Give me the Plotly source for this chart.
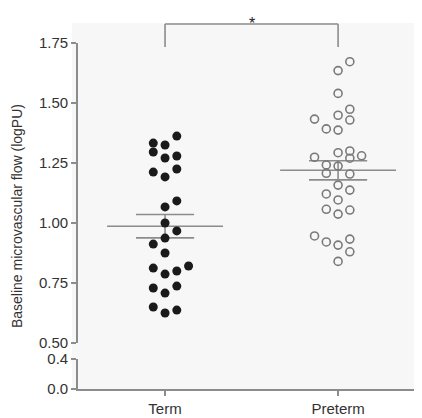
import numpy as np
import plotly.graph_objects as go

# ---- data ----
groups = ["Term", "Preterm"]
term_values = [1.362, 1.333, 1.325, 1.296, 1.271, 1.279, 1.212, 1.192, 1.225,
               1.092, 1.067, 1.000, 0.967, 0.937, 0.912, 0.875, 0.812, 0.787,
               0.800, 0.821, 0.729, 0.708, 0.737, 0.650, 0.625, 0.637]
term_jitter = [1, -1, 0, -1, 0, 1, -1, 0, 1, 1, 0, 0, 1, 0, -1, 0, -1, 0, 1, 2,
               -1, 0, 1, -1, 0, 1]
preterm_values = [1.672, 1.635, 1.540, 1.474, 1.433, 1.449, 1.429, 1.392, 1.387,
                  1.274, 1.293, 1.300, 1.270, 1.280, 1.242, 1.237, 1.207, 1.204,
                  1.158, 1.137, 1.121, 1.096, 1.057, 1.037, 1.054, 0.946, 0.921,
                  0.908, 0.933, 0.880, 0.840]
preterm_jitter = [1, 0, 0, 1, -2, 0, 1, -1, 0, -2, 0, 1, 1, 2, -1, 0, -1, 1, 0,
                  1, -1, 0, -1, 0, 1, -2, -1, 0, 1, 1, 0]
upper_ticks = [0.50, 0.75, 1.00, 1.25, 1.50, 1.75]
lower_ticks = [0.0, 0.4]
y_title = "Baseline microvascular flow (logPU)"
sig_label = "*"

JIT = 0.068      # jitter step (x units)
MEAN_HW = 0.335  # mean line half width
SEM_HW = 0.168   # sem cap half width
AXC = "#8c8c8c"
TXT = "#333333"

fig = go.Figure()

# background panel
fig.add_shape(type="rect", xref="paper", yref="paper", x0=-0.0174, x1=1.0,
              y0=0.0, y1=1.058, fillcolor="#f7f7f7", line_width=0, layer="below")

series = [
    (0, term_values, term_jitter, dict(symbol="circle", size=9, color="#1a1a1a")),
    (1, preterm_values, preterm_jitter,
     dict(symbol="circle-open", size=8, color="#7a7a7a", line=dict(width=1.6, color="#7a7a7a"))),
]

for gx, vals, jit, mk in series:
    vals = np.array(vals)
    m = vals.mean()
    sem = vals.std(ddof=1) / np.sqrt(len(vals))
    fig.add_trace(go.Scatter(x=[gx - MEAN_HW, gx + MEAN_HW], y=[m, m], mode="lines",
                             line=dict(color=AXC, width=1.6), hoverinfo="skip",
                             showlegend=False, xaxis="x", yaxis="y"))
    fig.add_trace(go.Scatter(x=[gx - SEM_HW, gx + SEM_HW, None, gx - SEM_HW, gx + SEM_HW, None, gx, gx],
                             y=[m + sem, m + sem, None, m - sem, m - sem, None, m - sem, m + sem],
                             mode="lines", line=dict(color=AXC, width=1.6),
                             hoverinfo="skip", showlegend=False, xaxis="x", yaxis="y"))
    fig.add_trace(go.Scatter(x=[gx + j * JIT for j in jit], y=vals, mode="markers",
                             marker=mk, showlegend=False, xaxis="x", yaxis="y",
                             cliponaxis=False))

# placeholder so the lower (broken) axis segment exists
fig.add_trace(go.Scatter(x=[None], y=[None], mode="markers", showlegend=False,
                         hoverinfo="skip", xaxis="x", yaxis="y2"))

# significance bracket
br_top, br_bot = 1.0549, 0.9884
fig.add_shape(type="line", xref="x", yref="paper", x0=0, x1=1, y0=br_top, y1=br_top,
              line=dict(color=AXC, width=1.6))
fig.add_shape(type="line", xref="x", yref="paper", x0=0, x1=0, y0=br_bot, y1=br_top,
              line=dict(color=AXC, width=1.6))
fig.add_shape(type="line", xref="x", yref="paper", x0=1, x1=1, y0=br_bot, y1=br_top,
              line=dict(color=AXC, width=1.6))
fig.add_annotation(x=0.5, xref="x", y=1.087, yref="paper", text=sig_label,
                   showarrow=False, font=dict(size=16, color="#222"))

# y title
fig.add_annotation(x=-0.177, xref="paper", y=0.5, yref="paper", text=y_title,
                   xanchor="center", yanchor="middle",
                   textangle=-90, showarrow=False, font=dict(size=14, color=TXT))

axis_common = dict(showline=True, linecolor=AXC, linewidth=1.6, ticks="outside",
                   ticklen=5, tickcolor=AXC, tickwidth=1.6, showgrid=False,
                   zeroline=False, tickfont=dict(size=15, color=TXT))

fig.update_layout(
    width=414, height=410,
    margin=dict(l=70, r=0, t=35, b=29, autoexpand=False),
    paper_bgcolor="white", plot_bgcolor="rgba(0,0,0,0)",
    font=dict(family="Liberation Sans, Arial, sans-serif"),
    xaxis=dict(range=[-0.503, 1.485], tickvals=[0, 1], ticktext=groups,
               anchor="y2", **axis_common),
    yaxis=dict(domain=[0.13295, 1.0], range=[0.5, 1.75], tickvals=upper_ticks,
               tickformat=".2f", anchor="x", **axis_common),
    yaxis2=dict(domain=[0.0, 0.0867], range=[0.0, 0.4], tickvals=lower_ticks,
                tickformat=".1f", anchor="x", **axis_common),
)

fig.write_html("out.html")
